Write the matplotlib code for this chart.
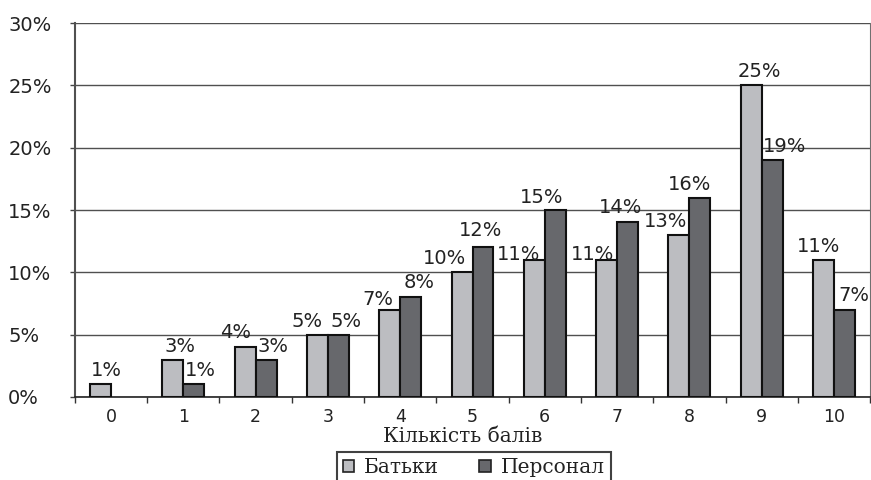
import numpy as np
import matplotlib.pyplot as plt
from matplotlib.patches import Patch
from matplotlib.ticker import FuncFormatter

scores = ["0", "1", "2", "3", "4", "5", "6", "7", "8", "9", "10"]
parents = [1, 3, 4, 5, 7, 10, 11, 11, 13, 25, 11]
staff = [0, 1, 3, 5, 8, 12, 15, 14, 16, 19, 7]

# hand-nudged label offsets (pixels, from the top centre of each bar)
parents_dx = [6, 7, -10, -10, -12, -18, -16, -14, -13, 8, -5]
parents_dy = [8, 8, 9, 8, 5, 8, 0, 0, 8, 8, 8]
staff_dx = [0, 7, 7, 8, 8, -2, -14, -7, -10, 12, 9]
staff_dy = [0, 8, 8, 8, 9, 11, 7, 9, 8, 8, 9]

light = "#bcbdc1"
dark = "#67686c"
serif = "DejaVu Serif"

fig = plt.figure(figsize=(8.71, 4.8), dpi=100)
ax = fig.add_axes([0.086, 0.173, 0.913, 0.779])

x = np.arange(len(scores))
w = 0.29
b1 = ax.bar(x - w / 2, parents, w, color=light, edgecolor="#111111", linewidth=1.5, zorder=3)
b2 = ax.bar(x + w / 2, staff, w, color=dark, edgecolor="#111111", linewidth=1.5, zorder=3)

for bars, vals, dxs, dys in ((b1, parents, parents_dx, parents_dy),
                             (b2, staff, staff_dx, staff_dy)):
    for r, v, dx, dy in zip(bars, vals, dxs, dys):
        if v == 0:
            # empty bar: nothing to outline or label
            r.set_visible(False)
            continue
        ax.annotate(f"{v}%", (r.get_x() + r.get_width() / 2, v),
                    xytext=(dx, dy), textcoords="offset pixels",
                    ha="center", va="baseline", fontsize=14, color="#222222", zorder=4)

ax.set_xlim(-0.5, len(scores) - 0.5)
ax.set_ylim(0, 30)
ax.set_yticks(range(0, 31, 5))
ax.yaxis.set_major_formatter(FuncFormatter(lambda v, p: f"{v:.0f}%"))
ax.yaxis.grid(True, color="#505050", linewidth=1.0, zorder=0)

ax.set_xticks(x)
ax.set_xticklabels(scores)
ax.set_xticks(np.arange(-0.5, len(scores)), minor=True)
ax.tick_params(axis="x", which="major", length=0, pad=8, labelsize=12.5, labelcolor="#222222")
ax.tick_params(axis="x", which="minor", length=4, width=1, color="#333333")
ax.tick_params(axis="y", length=3.5, width=1, color="#444444", pad=44.5,
               labelsize=14, labelcolor="#222222")
for lab in ax.get_yticklabels():
    lab.set_horizontalalignment("left")

ax.spines["top"].set_visible(False)
ax.spines["right"].set_color("#707070")
ax.spines["left"].set_color("#505050")
ax.spines["left"].set_linewidth(1.5)
ax.spines["bottom"].set_color("#222222")
ax.spines["bottom"].set_linewidth(1.2)

ax.set_xlabel("Кількість балів", family=serif, fontsize=14.5, color="#222222")
ax.xaxis.set_label_coords((463 - 75) / 795, -0.107)
ax.xaxis.label.set_va("center")

handles = [Patch(facecolor=light, edgecolor="#222222", linewidth=1.2),
           Patch(facecolor=dark, edgecolor="#222222", linewidth=1.2)]
leg = fig.legend(handles, ["Батьки", "Персонал"], loc="upper center",
                 bbox_to_anchor=(0.544, 0.058), ncol=2, fancybox=False, borderaxespad=0,
                 frameon=True, edgecolor="#111111", handlelength=0.55, handleheight=0.55,
                 columnspacing=2.0, handletextpad=0.5, borderpad=0.3,
                 prop={"family": serif, "size": 14.5})
leg.get_frame().set_linewidth(1.5)
for t in leg.get_texts():
    t.set_color("#222222")

fig.savefig("out.png", dpi=100)
